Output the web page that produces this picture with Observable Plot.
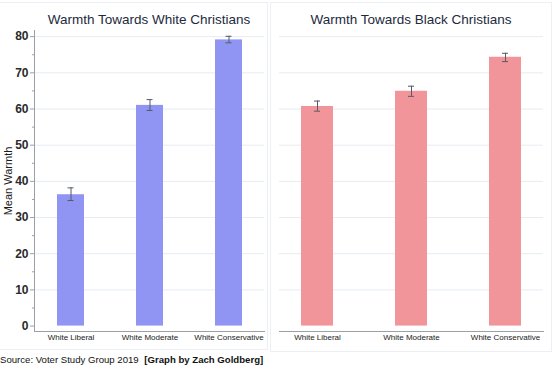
<!DOCTYPE html>
<html><head><meta charset="utf-8">
<script src="https://cdn.jsdelivr.net/npm/d3@7"></script>
<script src="https://cdn.jsdelivr.net/npm/@observablehq/plot@0.6"></script>
<style>
body{margin:0;background:#fff;font-family:"Liberation Sans",Arial,sans-serif}
#wrap{position:relative;width:555px;height:370px;overflow:hidden;background:#fff}
.panel{position:absolute;border:1px solid #eceff3;box-sizing:border-box}
.title{position:absolute;top:12px;font-size:13.5px;line-height:16px;color:#1c2a3c;white-space:nowrap;transform:translateX(-50%)}
.chart{position:absolute;top:0}
#cap{position:absolute;left:0;top:354px;font-size:9.6px;line-height:12px;color:#111;white-space:nowrap}
#cap b{font-weight:bold;margin-left:3px}
</style></head>
<body><div id="wrap">
<div class="panel" style="left:-2px;top:2px;width:270px;height:348px"></div>
<div class="panel" style="left:270px;top:2px;width:282px;height:350px"></div>
<div id="left" class="chart" style="left:0"></div>
<div id="right" class="chart" style="left:270px"></div>
<div class="title" style="left:149px">Warmth Towards White Christians</div>
<div class="title" style="left:411px">Warmth Towards Black Christians</div>
<div id="cap">Source: Voter Study Group 2019 <b>[Graph by Zach Goldberg]</b></div>
</div>
<script>
const groups = ["White Liberal", "White Moderate", "White Conservative"];
const whiteMean = [36.3, 61.0, 79.1];
const whiteLo = [34.7, 59.6, 78.3];
const whiteHi = [38.2, 62.6, 80.1];
const blackMean = [60.7, 64.9, 74.3];
const blackLo = [59.4, 63.5, 73.1];
const blackHi = [62.2, 66.3, 75.4];
const yTicks = [0, 10, 20, 30, 40, 50, 60, 70, 80];
const yMinor = [5, 15, 25, 35, 45, 55, 65, 75];
const yDomain = [-1.5, 81.7];

const white = groups.map((g, i) => ({group: g, mean: whiteMean[i], lo: whiteLo[i], hi: whiteHi[i]}));
const black = groups.map((g, i) => ({group: g, mean: blackMean[i], lo: blackLo[i], hi: blackHi[i]}));

const font = '"Liberation Sans", Arial, sans-serif';
const errColor = "#555a66";
const gridColor = "#e6ecf2";

function errMarks(rows, inset) {
  return [
    Plot.ruleX(rows, {x: "group", y1: "lo", y2: "hi", stroke: errColor, strokeWidth: 1}),
    Plot.tickY(rows, {x: "group", y: "lo", insetLeft: inset, insetRight: inset, stroke: errColor, strokeWidth: 1}),
    Plot.tickY(rows, {x: "group", y: "hi", insetLeft: inset, insetRight: inset, stroke: errColor, strokeWidth: 1})
  ];
}

const left = Plot.plot({
  width: 268, height: 345,
  marginLeft: 34, marginRight: 4, marginTop: 30, marginBottom: 14,
  style: {fontFamily: font, background: "transparent", overflow: "visible"},
  x: {domain: groups, paddingInner: 0.66, paddingOuter: 0.27},
  y: {domain: yDomain},
  marks: [
    Plot.gridY(yTicks.slice(1), {stroke: gridColor, strokeOpacity: 1}),
    Plot.barY(white, {x: "group", y: "mean", fill: "#9095f4"}),
    ...errMarks(white, 10.5),
    Plot.frame({anchor: "left", stroke: "#9aa0a6"}),
    Plot.frame({anchor: "bottom", stroke: "#9aa0a6"}),
    Plot.axisY(yMinor, {tickSize: 2, text: null, stroke: "#9aa0a6", fontSize: 11, fill: "#1a1a1a",
      label: "Mean Warmth", labelArrow: "none", labelAnchor: "center", labelOffset: 30}),
    Plot.axisY(yTicks, {tickSize: 4, tickPadding: 2, fontSize: 12, fontWeight: "bold", fill: "#2a2a2a", stroke: "#9aa0a6", label: null}),
    Plot.axisX({tickSize: 0, tickPadding: 3, fontSize: 8, fill: "#1a1a1a", label: null})
  ]
});
document.getElementById("left").append(left);

const right = Plot.plot({
  width: 276, height: 345,
  marginLeft: 9, marginRight: 3, marginTop: 30, marginBottom: 14,
  style: {fontFamily: font, background: "transparent", overflow: "visible"},
  x: {domain: groups, paddingInner: 0.66, paddingOuter: 0.233},
  y: {domain: yDomain, axis: null},
  marks: [
    Plot.gridY(yTicks.slice(1), {stroke: gridColor, strokeOpacity: 1}),
    Plot.barY(black, {x: "group", y: "mean", fill: "#f2959a"}),
    ...errMarks(black, 13),
    Plot.frame({anchor: "bottom", stroke: "#9aa0a6"}),
    Plot.axisX({tickSize: 0, tickPadding: 3, fontSize: 8, fill: "#1a1a1a", label: null})
  ]
});
document.getElementById("right").append(right);
</script>
</body></html>
